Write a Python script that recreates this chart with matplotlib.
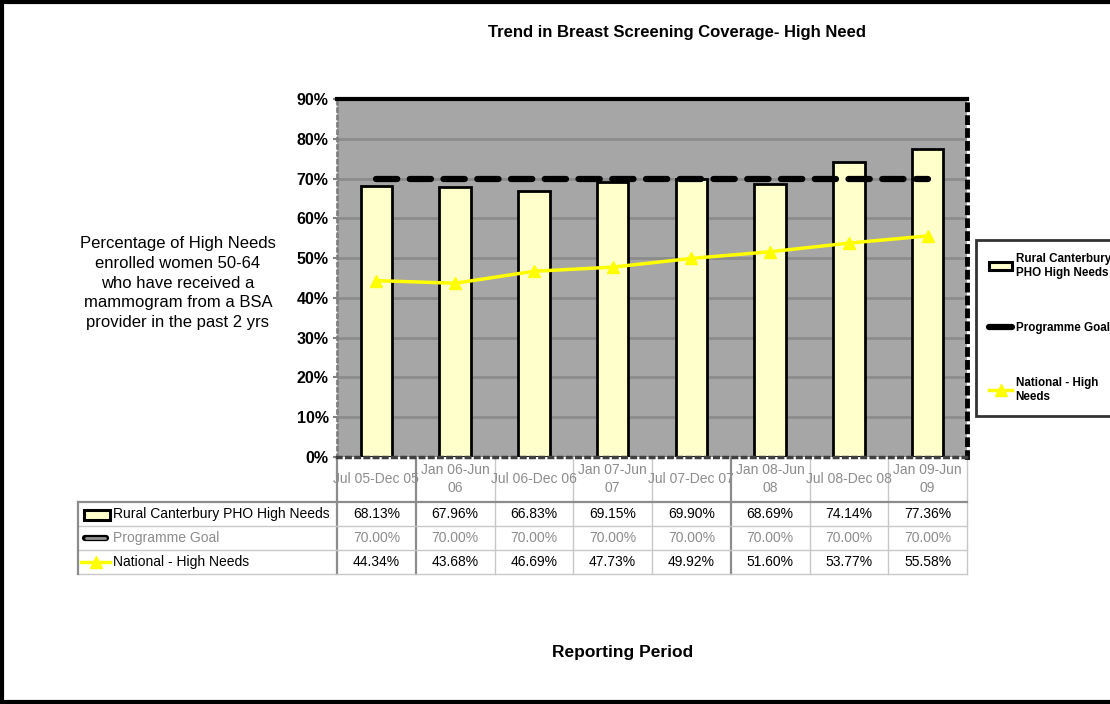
"""
Trend in Breast Screening Coverage - High Need
Bar + line chart with a data table underneath (Excel style).
"""

import matplotlib

matplotlib.use("Agg")
import matplotlib.pyplot as plt
from matplotlib.lines import Line2D
from matplotlib.patches import Rectangle
from matplotlib.transforms import blended_transform_factory

periods = [
    "Jul 05-Dec 05",
    "Jan 06-Jun\n06",
    "Jul 06-Dec 06",
    "Jan 07-Jun\n07",
    "Jul 07-Dec 07",
    "Jan 08-Jun\n08",
    "Jul 08-Dec 08",
    "Jan 09-Jun\n09",
]
rural = [68.13, 67.96, 66.83, 69.15, 69.90, 68.69, 74.14, 77.36]
goal = [70.00, 70.00, 70.00, 70.00, 70.00, 70.00, 70.00, 70.00]
national = [44.34, 43.68, 46.69, 47.73, 49.92, 51.60, 53.77, 55.58]
series_names = [
    "Rural Canterbury PHO High Needs",
    "Programme Goal",
    "National - High Needs",
]
legend_labels = ["Rural Canterbury\nPHO High Needs", "Programme Goal", "National - High\nNeeds"]
yticks = [0, 10, 20, 30, 40, 50, 60, 70, 80, 90]

FONT = ["Liberation Sans", "DejaVu Sans"]

W, H = 1110, 704
BAR_FILL = "#ffffcc"
YELLOW = "#ffff00"
GREY_TXT = "#8c8c8c"


def fx(x):
    return x / W


def fy(y):
    return 1 - y / H


fig = plt.figure(figsize=(W / 100, H / 100), dpi=100)
fig.patch.set_facecolor("white")

# plot area
ax = fig.add_axes([fx(337), fy(457), fx(967 - 337), (457 - 99) / H])
ax.set_facecolor("#a6a6a6")
ax.set_axisbelow(True)
ax.yaxis.grid(True, color="#8c8c8c", lw=2)

x = list(range(len(periods)))
bars = ax.bar(x, rural, width=0.4, color=BAR_FILL, edgecolor="black", lw=2, zorder=2)
(goal_line,) = ax.plot(
    x, goal, color="black", lw=4.5, ls=(0, (3.4, 2.0)), dash_capstyle="round", zorder=3
)
(nat_line,) = ax.plot(
    x, national, color=YELLOW, lw=2.5, marker="^", ms=9, mec=YELLOW, zorder=4
)

ax.set_xlim(-0.5, len(periods) - 0.5)
ax.set_ylim(0, 90)
ax.set_xticks([])
ax.set_yticks(yticks)
ax.set_yticklabels([f"{t}%" for t in yticks], fontsize=11.5, fontweight="bold", family=FONT)
ax.tick_params(axis="y", direction="out", length=3, width=1.5, color="#808080", pad=3)

ax.spines["left"].set(color="#808080", lw=2, ls=":")
ax.spines["bottom"].set(color="#404040", lw=2.5, ls=":")
ax.spines["right"].set(color="black", lw=3.5, ls=":")
ax.spines["top"].set(color="black", lw=3)

# data table under the plot
trans = blended_transform_factory(ax.transData, fig.transFigure)
row_y = [514, 538, 562]
row_colors = ["black", GREY_TXT, "black"]
row_values = [rural, goal, national]

for i, p in enumerate(periods):
    ax.text(i, fy(479), p, transform=trans, ha="center", va="center",
            color=GREY_TXT, fontsize=10, family=FONT, linespacing=1.45)
    for vals, yy, c in zip(row_values, row_y, row_colors):
        ax.text(i, fy(yy), f"{vals[i]:.2f}%", transform=trans, ha="center",
                va="center", color=c, fontsize=10, family=FONT)

# table grid
for k in range(len(periods) + 1):
    dark = k in (0, 1, 5)
    ax.plot([k - 0.5, k - 0.5], [fy(457), fy(574)], transform=trans, clip_on=False,
            color="#8c8c8c" if dark else "#c8c8c8", lw=1.6 if dark else 1)
fig.add_artist(Line2D([fx(78), fx(967)], [fy(502), fy(502)], color="#8c8c8c", lw=1.6))
for yy in (526, 550, 574):
    fig.add_artist(Line2D([fx(78), fx(967)], [fy(yy), fy(yy)], color="#c8c8c8", lw=1))
fig.add_artist(Line2D([fx(78), fx(78)], [fy(502), fy(574)], color="#8c8c8c", lw=1.6))

# row headers with small legend keys
fig.add_artist(Rectangle((fx(84), fy(520)), fx(26), 10 / H, facecolor=BAR_FILL,
                         edgecolor="black", lw=2.2))
fig.add_artist(Line2D([fx(85), fx(106)], [fy(538), fy(538)], color="black", lw=4.5,
                      solid_capstyle="round"))
fig.add_artist(Line2D([fx(86), fx(105)], [fy(538), fy(538)], color="#909090", lw=2,
                      solid_capstyle="round"))
fig.add_artist(Line2D([fx(81), fx(110)], [fy(562), fy(562)], color=YELLOW, lw=2.5))
fig.add_artist(Line2D([fx(96)], [fy(562)], color=YELLOW, marker="^", ms=9, ls="none"))
for name, yy, c in zip(series_names, row_y, row_colors):
    fig.text(fx(113), fy(yy), name, ha="left", va="center", color=c, fontsize=10,
             family=FONT)

# titles
fig.text(fx(677), fy(33), "Trend in Breast Screening Coverage- High Need",
         ha="center", va="center", fontsize=12, fontweight="bold", family=FONT)
fig.text(fx(623), fy(653), "Reporting Period", ha="center", va="center",
         fontsize=12.5, fontweight="bold", family=FONT)
fig.text(fx(178), fy(283),
         "Percentage of High Needs\nenrolled women 50-64\nwho have received a\n"
         "mammogram from a BSA\nprovider in the past 2 yrs",
         ha="center", va="center", fontsize=12, family=FONT, linespacing=1.4)

# legend on the right
handles = [
    Rectangle((0, 0), 1, 1, facecolor=BAR_FILL, edgecolor="black", lw=2.2),
    Line2D([], [], color="black", lw=4.5, solid_capstyle="round"),
    Line2D([], [], color=YELLOW, lw=2.5, marker="^", ms=8),
]
leg = ax.legend(
    handles, legend_labels, loc="upper left", bbox_to_anchor=(fx(976), fy(240)),
    bbox_transform=fig.transFigure, frameon=True, fancybox=False,
    labelspacing=3.7, handlelength=2.0, handletextpad=0.3, borderpad=1.1,
    borderaxespad=0, prop={"family": FONT, "weight": "bold", "size": 8.4},
)
leg.get_frame().set_edgecolor("black")
leg.get_frame().set_linewidth(2)

# outer border
for xs, ys in [((0.002, 0.002), (0, 1)), ((0, 1), (0.997, 0.997)), ((0, 1), (0.003, 0.003))]:
    fig.add_artist(Line2D(xs, ys, color="black", lw=3))

fig.savefig("out.png", dpi=100)
